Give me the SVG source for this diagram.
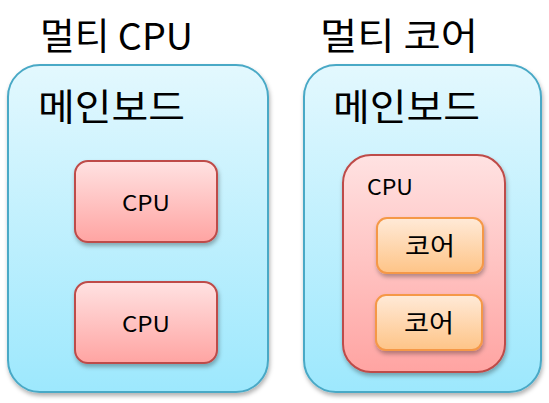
<svg xmlns="http://www.w3.org/2000/svg" width="549" height="403" viewBox="0 0 549 403">
<defs>
<linearGradient id="gBoard" x1="0" y1="0" x2="0" y2="1"><stop offset="0" stop-color="#e3f8fe"/><stop offset="1" stop-color="#9de8fd"/></linearGradient>
<linearGradient id="gCpu" x1="0" y1="0" x2="0" y2="1"><stop offset="0" stop-color="#ffe2e2"/><stop offset="1" stop-color="#ffa4a2"/></linearGradient>
<linearGradient id="gCore" x1="0" y1="0" x2="0" y2="1"><stop offset="0" stop-color="#ffead8"/><stop offset="1" stop-color="#fec487"/></linearGradient>
<filter id="sh" x="-20%" y="-20%" width="140%" height="140%"><feDropShadow dx="1" dy="3" stdDeviation="2" flood-color="#000" flood-opacity="0.3"/></filter>
</defs>
<style>
text{font-family:"Malgun Gothic","Noto Sans CJK KR","Noto Sans",sans-serif;fill:#000}
.board{fill:url(#gBoard);stroke:#4aa9c6;stroke-width:2;filter:url(#sh)}
.cpu{fill:url(#gCpu);stroke:#be4b48;stroke-width:2;filter:url(#sh)}
.core{fill:url(#gCore);stroke:#f59847;stroke-width:2;filter:url(#sh)}
.title{font-size:37px}
.lbl{font-size:22px}
.klbl{font-size:25px}
</style>
<g id="title-left"><text class="title" x="40" y="50" textLength="153" lengthAdjust="spacingAndGlyphs">멀티 CPU</text></g>
<g id="title-right"><text class="title" x="320" y="50" textLength="158" lengthAdjust="spacingAndGlyphs">멀티 코어</text></g>
<g id="board-left">
<rect class="board" x="8" y="65" width="260" height="327" rx="32"/>
<text class="title" x="38" y="121" textLength="147" lengthAdjust="spacingAndGlyphs">메인보드</text>
</g>
<g id="cpu-left-1"><rect class="cpu" x="75" y="161" width="142" height="81" rx="13"/><text class="lbl" x="122" y="211" textLength="48" lengthAdjust="spacingAndGlyphs">CPU</text></g>
<g id="cpu-left-2"><rect class="cpu" x="75" y="282" width="142" height="81" rx="13"/><text class="lbl" x="122" y="332" textLength="48" lengthAdjust="spacingAndGlyphs">CPU</text></g>
<g id="board-right">
<rect class="board" x="304" y="65" width="237" height="327" rx="32"/>
<text class="title" x="333" y="121" textLength="147" lengthAdjust="spacingAndGlyphs">메인보드</text>
</g>
<g id="cpu-right"><rect class="cpu" x="343" y="155" width="162" height="217" rx="28"/><text class="lbl" x="367" y="195" textLength="46" lengthAdjust="spacingAndGlyphs">CPU</text></g>
<g id="core-1"><rect class="core" x="377" y="218" width="106" height="55" rx="10"/><text class="klbl" x="405" y="255" textLength="50" lengthAdjust="spacingAndGlyphs">코어</text></g>
<g id="core-2"><rect class="core" x="376" y="295" width="106" height="55" rx="10"/><text class="klbl" x="404" y="332" textLength="50" lengthAdjust="spacingAndGlyphs">코어</text></g>
<g id="connectors"/>
</svg>
